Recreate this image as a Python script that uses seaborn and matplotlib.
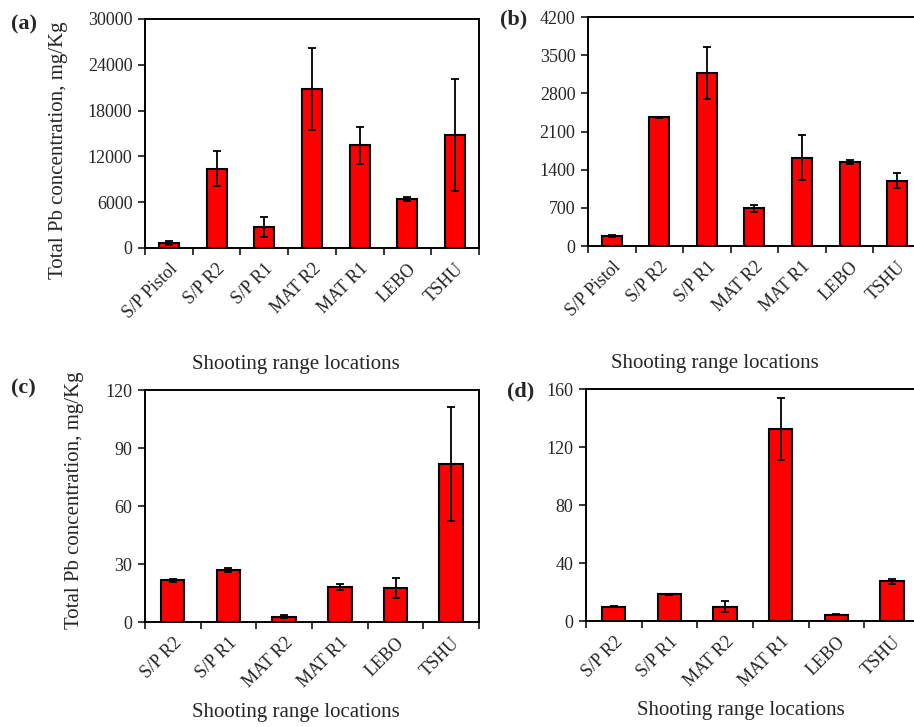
import matplotlib
matplotlib.use("Agg")
import matplotlib.pyplot as plt
import seaborn as sns
import pandas as pd
import numpy as np
from matplotlib.ticker import FixedLocator, NullFormatter

sns.set_style("ticks")
plt.rcParams['font.family'] = ['Liberation Serif', 'DejaVu Serif']

# ---- data ----
cats_ab = ["S/P Pistol", "S/P R2", "S/P R1", "MAT R2", "MAT R1", "LEBO", "TSHU"]
a_vals = [650, 10400, 2750, 20850, 13450, 6450, 14750]
a_err = [300, 2250, 1350, 5400, 2400, 250, 7350]
b_vals = [180, 2360, 3170, 690, 1620, 1540, 1200]
b_err = [15, 10, 475, 60, 410, 40, 145]

cats_cd = ["S/P R2", "S/P R1", "MAT R2", "MAT R1", "LEBO", "TSHU"]
c_vals = [21.6, 27.1, 2.8, 18.1, 17.6, 81.7]
c_err = [0.7, 1.0, 0.8, 1.5, 5.3, 29.4]
d_vals = [10.0, 18.5, 10.0, 132.5, 4.4, 27.3]
d_err = [0.4, 0.4, 4.0, 21.3, 0.6, 1.7]

a_yticks = [0, 6000, 12000, 18000, 24000, 30000]
b_yticks = [0, 700, 1400, 2100, 2800, 3500, 4200]
c_yticks = [0, 30, 60, 90, 120]
d_yticks = [0, 40, 80, 120, 160]

xlabel = "Shooting range locations"
ylabel = "Total Pb concentration, mg/Kg"

fig = plt.figure(figsize=(9.14, 7.27), dpi=100)

panels = [
    # (position, cats, vals, err, yticks, xlabel coords, ylabel coords, tag, tag pos)
    ([0.1586, 0.6589, 0.3655, 0.315], cats_ab, a_vals, a_err, a_yticks,
     (0.452, -0.507), (-0.26, 0.428), "(a)", (0.012, 0.967)),
    ([0.6433, 0.6616, 0.3643, 0.315], cats_ab, b_vals, b_err, b_yticks,
     (0.381, -0.515), None, "(b)", (0.547, 0.973)),
    ([0.1586, 0.1444, 0.3655, 0.319], cats_cd, c_vals, c_err, c_yticks,
     (0.452, -0.392), (-0.21, 0.526), "(c)", (0.012, 0.465)),
    ([0.6411, 0.1458, 0.3654, 0.319], cats_cd, d_vals, d_err, d_yticks,
     (0.464, -0.384), None, "(d)", (0.555, 0.461)),
]

for pos, cats, vals, err, yticks, xlc, ylc, tag, tagpos in panels:
    ax = fig.add_axes(pos)
    df = pd.DataFrame({"loc": cats, "val": vals})
    sns.barplot(data=df, x="loc", y="val", ax=ax, color="#ff0000",
                saturation=1, width=0.42, edgecolor="black", linewidth=1.5,
                errorbar=None)
    ax.errorbar(np.arange(len(cats)), vals, yerr=err, fmt="none",
                ecolor="black", elinewidth=1.3, capsize=3, capthick=1.3,
                zorder=5)
    n = len(cats)
    ax.set_xlim(-0.5, n - 0.5)
    ax.set_ylim(yticks[0], yticks[-1])
    ax.set_yticks(yticks)
    ax.set_yticklabels([str(t) for t in yticks])
    ax.xaxis.set_minor_locator(FixedLocator(np.arange(-0.5, n, 1.0)))
    ax.xaxis.set_minor_formatter(NullFormatter())
    ax.tick_params(axis="x", which="major", length=0, pad=9, labelsize=13)
    ax.tick_params(axis="x", which="minor", length=5, width=1.3,
                   direction="out")
    ax.tick_params(axis="y", length=5, width=1.3, direction="out",
                   labelsize=13, pad=4)
    for lab in ax.get_xticklabels():
        lab.set_rotation(45)
        lab.set_ha("right")
        lab.set_va("top")
        lab.set_rotation_mode("anchor")
    for sp in ax.spines.values():
        sp.set_visible(True)
        sp.set_linewidth(1.4)
        sp.set_color("black")
    ax.set_xlabel(xlabel, fontsize=15)
    ax.xaxis.set_label_coords(*xlc)
    ax.xaxis.label.set_va("center")
    if ylc is not None:
        ax.set_ylabel(ylabel, fontsize=15)
        ax.yaxis.set_label_coords(*ylc)
        ax.yaxis.label.set_va("center")
    else:
        ax.set_ylabel("")
    fig.text(tagpos[0], tagpos[1], tag, fontsize=16, fontweight="bold",
             va="center", ha="left")

fig.savefig("out.png", dpi=100)
